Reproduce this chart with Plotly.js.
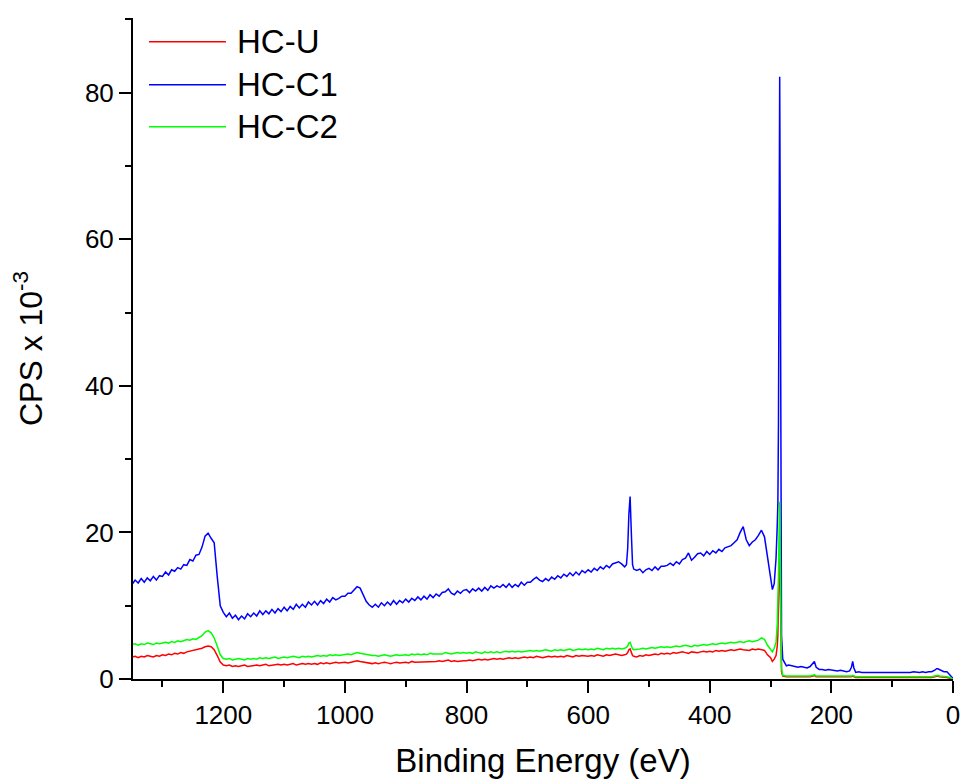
<!DOCTYPE html>
<html>
<head>
<meta charset="utf-8">
<script src="https://cdn.plot.ly/plotly-3.0.1.min.js"></script>
<style>html,body{margin:0;padding:0;background:#fff;}#chart{width:960px;height:782px;}</style>
</head>
<body>
<div id="chart"></div>
<script>
// Binding energy grid (eV)
var energy = [
1350,1345,1340,1335,1330,1325,1320,1315,1310,1305,
1300,1295,1290,1285,1280,1275,1270,1265,1260,1255,
1250,1245,1240,1235,1230,1225,1220,1215,1210,1205,
1200,1195,1190,1185,1180,1175,1170,1165,1160,1155,
1150,1145,1140,1135,1130,1125,1120,1115,1110,1105,
1100,1095,1090,1085,1080,1075,1070,1065,1060,1055,
1050,1045,1040,1035,1030,1025,1020,1015,1010,1005,
1000,995,990,985,980,975,970,965,960,955,
950,945,940,935,930,925,920,915,910,905,
900,895,890,885,880,875,870,865,860,855,
850,845,840,835,830,825,820,815,810,805,
800,795,790,785,780,775,770,765,760,755,
750,745,740,735,730,725,720,715,710,705,
700,695,690,685,680,675,670,665,660,655,
650,645,640,635,630,625,620,615,610,605,
600,595,590,585,580,575,570,565,560,555,
550,545,540,537,535,533,531,529,527,525,
520,515,510,505,500,495,490,485,480,475,
470,465,460,455,450,445,440,435,430,425,
420,415,410,405,400,395,390,385,380,375,
370,365,360,355,350,345,340,335,330,325,
320,315,310,305,300,297,294,291,289,288,
287,286,285,284,283,282,280,277,274,270,
265,260,255,250,245,240,235,230,228,225,
220,215,210,205,200,195,190,185,180,175,
170,167,165,163,160,155,150,145,140,135,
130,125,120,115,110,105,100,95,90,85,
80,75,70,65,60,55,50,45,40,35,
30,27,25,22,20,15,10,5,2,0
];

// CPS x 10^-3
var hcU = [
3.0,3.1,2.9,3.1,3.0,3.2,3.1,3.0,3.2,3.1,
3.3,3.2,3.4,3.3,3.5,3.4,3.6,3.5,3.7,3.8,
3.8,3.9,4.0,4.2,4.4,4.5,4.4,4.0,3.2,2.3,
1.9,1.8,1.9,1.7,1.8,1.7,1.8,1.9,1.7,1.8,
1.8,1.9,1.8,1.9,2.0,1.8,1.9,1.9,2.0,1.9,
2.0,1.9,2.0,2.1,1.9,2.0,2.1,2.0,2.1,2.0,
2.1,2.0,2.2,2.1,2.2,2.1,2.2,2.3,2.2,2.3,
2.3,2.2,2.3,2.4,2.5,2.4,2.3,2.2,2.2,2.1,
2.2,2.1,2.2,2.3,2.2,2.1,2.2,2.3,2.2,2.3,
2.3,2.2,2.4,2.3,2.3,2.4,2.3,2.4,2.4,2.3,
2.4,2.5,2.4,2.5,2.6,2.4,2.5,2.4,2.5,2.5,
2.5,2.6,2.5,2.6,2.7,2.6,2.7,2.6,2.7,2.8,
2.7,2.8,2.7,2.8,2.9,2.8,2.9,2.8,2.9,3.0,
2.9,3.0,2.9,3.1,3.0,2.9,3.0,3.1,3.0,3.1,
3.0,3.1,3.0,3.2,3.1,3.0,3.2,3.1,3.2,3.1,
3.1,3.2,3.1,3.3,3.2,3.1,3.3,3.2,3.3,3.4,
3.3,3.2,3.3,3.4,3.6,4.0,4.1,3.6,3.2,3.1,
3.0,3.2,3.1,3.3,3.2,3.3,3.4,3.3,3.5,3.4,
3.5,3.4,3.6,3.5,3.6,3.7,3.6,3.5,3.7,3.6,
3.6,3.7,3.8,3.7,3.8,3.7,3.9,3.8,3.9,3.8,
3.9,4.0,3.9,4.0,4.1,4.0,4.0,3.9,4.1,4.0,
4.1,4.0,3.9,3.3,2.9,2.4,2.7,3.2,4.5,6.0,
10.0,15.0,19.5,12.0,4.0,1.0,0.4,0.3,0.3,0.3,
0.3,0.3,0.2,0.3,0.3,0.2,0.3,0.4,0.5,0.3,
0.3,0.2,0.3,0.2,0.3,0.2,0.2,0.3,0.2,0.2,
0.2,0.3,0.4,0.3,0.2,0.2,0.2,0.2,0.2,0.2,
0.2,0.2,0.2,0.2,0.1,0.2,0.2,0.2,0.2,0.1,
0.2,0.1,0.2,0.2,0.1,0.2,0.1,0.2,0.2,0.2,
0.3,0.4,0.4,0.3,0.3,0.2,0.2,0.1,0.1,0.0
];

var hcC1 = [
12.9,13.5,13.1,13.7,13.2,13.8,13.4,14.0,13.5,14.1,
14.0,14.6,14.2,14.9,14.7,15.2,15.0,15.6,15.5,16.3,
16.1,16.9,17.0,18.0,19.5,19.9,19.2,18.6,14.0,10.0,
9.1,8.5,9.0,8.3,8.7,8.1,8.6,8.2,8.9,8.5,
9.0,8.6,9.3,8.8,9.3,8.9,9.5,9.0,9.6,9.2,
9.8,9.3,9.9,9.5,10.2,9.7,10.2,9.8,10.5,10.1,
10.6,10.1,10.7,10.3,10.9,10.5,11.1,10.8,11.0,11.3,
11.3,11.7,11.7,12.1,12.6,12.4,11.5,10.6,10.1,9.8,
10.2,9.8,10.4,10.0,10.5,10.1,10.7,10.2,10.7,10.4,
10.9,10.5,11.0,10.7,11.2,10.8,11.3,10.9,11.5,11.1,
11.6,11.3,11.8,11.9,12.3,11.7,11.5,12.0,11.7,12.1,
12.2,11.8,12.3,12.0,12.4,12.0,12.5,12.1,12.7,12.4,
12.7,12.5,12.9,12.5,13.0,12.5,12.9,12.6,13.2,12.8,
13.2,13.2,13.6,13.9,13.5,13.3,13.7,13.4,13.9,13.6,
14.1,13.8,14.3,14.0,14.5,14.1,14.6,14.2,14.8,14.5,
14.9,14.6,15.1,14.8,15.3,15.0,15.5,15.2,15.7,15.9,
16.0,15.7,15.3,15.6,17.8,22.5,24.9,20.0,15.6,15.0,
14.8,15.0,14.5,14.9,15.1,14.8,15.3,14.9,15.4,15.4,
15.5,15.8,15.5,16.0,15.7,16.3,16.5,17.2,16.2,16.6,
17.1,17.2,16.8,17.4,17.0,17.5,17.2,17.7,17.4,17.9,
18.1,18.2,18.6,19.0,20.0,20.8,19.0,18.2,18.7,19.0,
19.6,20.3,19.4,16.5,14.0,12.2,13.0,16.5,21.0,24.0,
35.0,60.0,82.2,60.0,25.0,6.0,2.7,2.2,1.8,1.9,
1.8,1.7,1.6,1.7,1.6,1.5,1.7,2.2,2.4,1.6,
1.3,1.3,1.2,1.3,1.2,1.2,1.1,1.2,1.1,1.0,
1.1,1.6,2.4,1.5,0.9,1.0,0.9,0.9,0.8,0.9,
0.9,0.8,0.9,0.8,0.9,0.8,0.9,0.9,0.8,0.9,
0.9,0.8,0.9,1.0,0.9,0.9,1.0,0.9,1.0,1.0,
1.2,1.4,1.4,1.3,1.2,1.0,1.0,0.6,0.3,0.1
];

var hcC2 = [
4.7,4.8,4.6,4.8,4.7,4.9,4.8,4.7,4.9,4.8,
4.9,5.0,4.9,5.1,5.0,5.2,5.1,5.3,5.4,5.3,
5.5,5.4,5.7,5.9,6.4,6.6,6.3,5.6,4.5,3.3,
2.8,2.7,2.8,2.6,2.7,2.8,2.7,2.6,2.8,2.7,
2.8,2.7,2.9,2.8,2.9,2.8,2.9,3.0,2.8,2.9,
3.0,2.9,3.0,3.1,3.0,2.9,3.1,3.0,3.1,3.0,
3.1,3.2,3.1,3.2,3.1,3.3,3.2,3.3,3.2,3.3,
3.3,3.4,3.3,3.5,3.6,3.5,3.4,3.3,3.2,3.2,
3.2,3.1,3.2,3.3,3.2,3.1,3.2,3.3,3.2,3.3,
3.3,3.2,3.4,3.3,3.4,3.3,3.4,3.3,3.5,3.4,
3.4,3.5,3.4,3.6,3.5,3.4,3.5,3.6,3.5,3.6,
3.5,3.6,3.5,3.7,3.6,3.5,3.7,3.6,3.7,3.6,
3.7,3.6,3.7,3.8,3.7,3.8,3.7,3.8,3.7,3.8,
3.8,3.9,3.8,3.9,3.8,3.9,4.0,3.9,3.8,4.0,
3.9,4.0,3.9,4.0,4.1,3.9,4.0,4.1,4.0,4.1,
4.0,4.1,4.0,4.2,4.1,4.0,4.2,4.1,4.2,4.1,
4.2,4.1,4.2,4.3,4.5,4.9,5.0,4.5,4.1,4.0,
4.0,4.1,4.2,4.1,4.2,4.3,4.2,4.3,4.4,4.3,
4.4,4.3,4.4,4.5,4.4,4.5,4.6,4.5,4.4,4.6,
4.5,4.6,4.7,4.6,4.7,4.8,4.7,4.8,4.9,4.8,
4.9,5.0,4.9,5.0,5.1,5.0,5.1,5.2,5.1,5.2,
5.3,5.6,5.4,4.6,4.0,3.7,4.2,5.0,7.5,10.0,
14.0,20.0,24.2,16.0,5.0,1.5,0.5,0.4,0.4,0.4,
0.4,0.4,0.3,0.4,0.4,0.3,0.4,0.5,0.6,0.4,
0.4,0.3,0.4,0.3,0.4,0.3,0.3,0.4,0.3,0.3,
0.3,0.4,0.5,0.4,0.3,0.3,0.3,0.3,0.3,0.3,
0.3,0.3,0.2,0.3,0.2,0.3,0.3,0.2,0.3,0.2,
0.3,0.2,0.3,0.2,0.2,0.3,0.2,0.3,0.3,0.3,
0.4,0.5,0.5,0.4,0.4,0.3,0.3,0.2,0.1,0.0
];

var seriesNames = ['HC-U', 'HC-C1', 'HC-C2'];
var seriesColors = ['#ff0000', '#0000ff', '#00ff00'];
var seriesValues = [hcU, hcC1, hcC2];

var FONT = 'Arial, "Liberation Sans", sans-serif';

var traces = seriesValues.map(function (vals, i) {
  return {
    x: energy, y: vals, type: 'scatter', mode: 'lines',
    name: seriesNames[i],
    line: {color: seriesColors[i], width: 1.5},
    showlegend: false, hoverinfo: 'skip'
  };
});

// custom legend (long line samples as in the original)
var legendRowsPx = [41.7, 84.7, 126.7];
var plotTop = 18, plotBottom = 679.3, plotLeft = 133, plotRight = 953.3;
function py(p) { return (plotBottom - p) / (plotBottom - plotTop); }
function px(p) { return (p - plotLeft) / (plotRight - plotLeft); }
var shapes = [], annotations = [];
seriesNames.forEach(function (n, i) {
  var yy = py(legendRowsPx[i]);
  shapes.push({type: 'line', xref: 'paper', yref: 'paper', x0: px(149), x1: px(226), y0: yy, y1: yy,
    line: {color: seriesColors[i], width: 1.5}});
  annotations.push({xref: 'paper', yref: 'paper', x: px(235), y: yy, xanchor: 'left', yanchor: 'middle',
    text: n, showarrow: false, font: {family: FONT, size: 33, color: '#000'}});
});

var layout = {
  width: 960, height: 782,
  margin: {l: 133, r: 6.7, t: 18, b: 102.7},
  paper_bgcolor: '#fff', plot_bgcolor: '#fff',
  font: {family: FONT, color: '#000'},
  showlegend: false,
  xaxis: {
    range: [1348.5, 0],
    tick0: 0, dtick: 200,
    ticks: 'outside', ticklen: 12, tickwidth: 2, tickcolor: '#000',
    minor: {dtick: 100, ticks: 'outside', ticklen: 6, tickwidth: 2, tickcolor: '#000'},
    showline: true, linewidth: 2, linecolor: '#000',
    showgrid: false, zeroline: false,
    ticklabeloverflow: 'allow',
    tickfont: {family: FONT, size: 26, color: '#000'},
    title: {text: 'Binding Energy (eV)', font: {family: FONT, size: 33, color: '#000'}, standoff: 20}
  },
  yaxis: {
    range: [0, 90.2],
    tick0: 0, dtick: 20,
    ticks: 'outside', ticklen: 12, tickwidth: 2, tickcolor: '#000',
    minor: {dtick: 10, ticks: 'outside', ticklen: 6, tickwidth: 2, tickcolor: '#000'},
    showline: true, linewidth: 2, linecolor: '#000',
    showgrid: false, zeroline: false,
    ticklabeloverflow: 'allow',
    tickfont: {family: FONT, size: 26, color: '#000'},
    title: {text: 'CPS x 10<sup>-3</sup>', font: {family: FONT, size: 32, color: '#000'}, standoff: 33}
  },
  shapes: shapes,
  annotations: annotations
};

Plotly.newPlot('chart', traces, layout, {staticPlot: true, displayModeBar: false});
</script>
</body>
</html>
